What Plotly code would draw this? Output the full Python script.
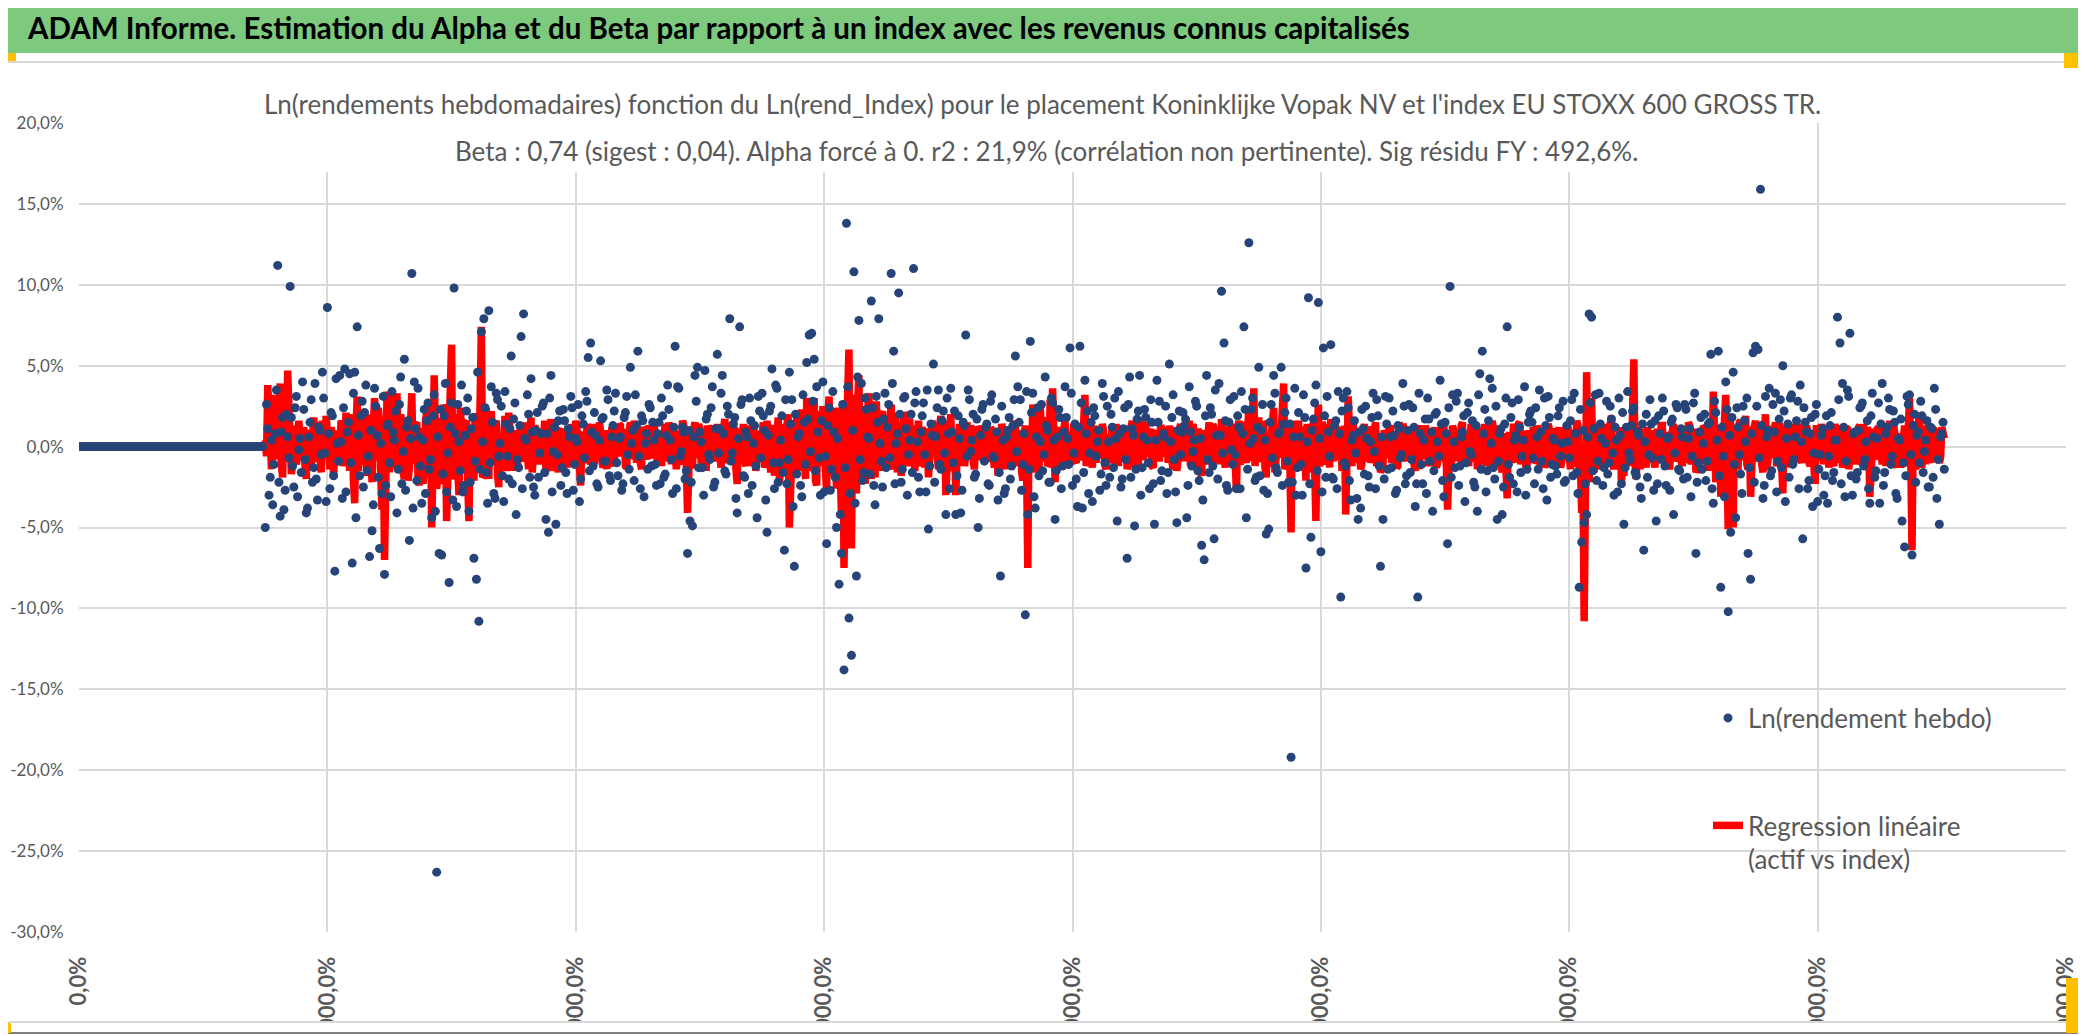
import plotly.graph_objects as go

# 1. Data (values in %)
# weeks before the first quote are plotted as zero returns
LEAD_ZEROS = [
    0.0, 0.0, 0.0, 0.0, 0.0, 0.0, 0.0, 0.0, 0.0, 0.0, 0.0, 0.0, 0.0, 0.0, 0.0,
    0.0, 0.0, 0.0, 0.0, 0.0, 0.0, 0.0, 0.0, 0.0, 0.0, 0.0, 0.0, 0.0, 0.0, 0.0,
    0.0, 0.0, 0.0, 0.0, 0.0, 0.0, 0.0, 0.0, 0.0, 0.0, 0.0, 0.0, 0.0, 0.0, 0.0,
    0.0, 0.0, 0.0, 0.0, 0.0, 0.0, 0.0, 0.0, 0.0, 0.0, 0.0, 0.0, 0.0, 0.0, 0.0,
    0.0, 0.0, 0.0, 0.0, 0.0, 0.0, 0.0, 0.0, 0.0, 0.0, 0.0, 0.0, 0.0, 0.0, 0.0,
]

# weekly log returns, one row per x unit (even weeks)
ln_weekly = [
    -5.0, 1.1, -1.9, -3.6, 0.8, 11.2, -4.3, 1.8, -2.7, 0.6,
    9.9, -1.2, 2.4, -3.1, 0.5, 4.0, -0.8, -3.8, 1.5, -2.2,
    3.9, -3.3, 1.0, 4.6, -0.4, 8.6, -2.6, 1.9, -7.7, 0.2,
    4.4, -3.2, 4.8, 0.9, 4.5, -7.2, 4.6, 7.4, -1.8, 2.8,
    2.1, -1.5, -6.8, -5.2, 3.6, 0.7, -6.3, -2.9, -7.9, 1.3,
    -1.0, 3.4, 0.4, -4.1, 2.6, -2.3, 5.4, 1.2, -5.8, 10.7,
    4.0, -2.1, 0.6, -3.5, 2.3, 1.6, -1.4, -4.4, 3.2, -26.3,
    -6.6, -6.7, 1.9, -2.8, -8.4, 2.7, 9.8, -3.7, 0.3, 3.8,
    -2.4, 2.2, -4.0, 1.1, -6.9, -8.2, -10.8, 7.1, 7.9, -1.6,
    8.4, 3.7, -2.9, 3.3, -0.6, 2.5, -3.4, 1.4, -2.0, 5.6,
    1.7, -4.2, -1.3, 6.8, 8.2, 0.4, 2.0, 4.2, -2.5, 1.0,
    -1.9, 0.8, 2.7, -4.5, -5.3, 4.4, -0.3, -4.8, 1.6, -2.4,
    2.3, -1.6, 1.1, 3.1, -2.7, 0.5, 2.6, -2.0, 1.4, 3.4,
    5.5, 6.4, -1.2, 0.7, -2.5, 5.3, 1.8, -0.9, 2.9, -2.1,
    1.3, 3.3, -1.8, 0.6, -2.3, 2.1, -0.5, 4.9, 1.0, 3.2,
    5.9, -2.6, 1.6, 0.2, -1.4, 2.4, 1.5, -1.1, 0.8, -2.3,
    1.9, -1.7, 3.8, 0.4, -2.9, 6.2, 3.7, -0.6, 1.2, -2.0,
    -6.6, -4.6, -4.9, 4.4, 4.9, 0.9, -1.3, 4.7, 2.0, -0.8,
    3.7, -2.2, 5.7, 1.1, 4.4, -1.5, 2.5, 7.9, -0.4, 1.8,
    -4.1, 7.4, 2.9, -1.9, 0.6, 3.0, -2.4, 1.3, -4.4, 2.2,
    3.3, 1.0, -5.3, 2.2, 4.8, -2.6, 3.6, -1.0, 1.9, -6.4,
    -2.3, 4.6, 2.9, -7.4, -1.7, 0.8, -3.1, 1.5, 5.2, 6.9,
    7.0, 5.4, 3.7, -0.7, 1.6, -2.8, -6.0, 2.4, -1.4, 0.9,
    -5.0, -8.5, -6.6, -13.8, 13.8, -10.6, -12.9, 10.8, -8.0, 7.8,
    3.9, -1.6, 2.3, 0.5, 9.0, -2.4, 3.1, 7.9, -0.9, 1.7,
    -1.3, 2.6, 10.7, 5.9, 0.2, 9.5, -2.2, 3.0, 1.1, -0.5,
    2.0, 11.0, 3.4, -1.9, 0.9, 2.7, -2.8, -5.1, 1.4, 5.1,
    0.6, 3.5, -1.4, 2.2, -4.2, 0.8, 3.6, -1.0, -4.2, 1.9,
    -4.1, 1.5, 6.9, 3.5, -0.3, 2.0, -1.7, -5.0, 0.7, 2.6,
    1.2, -2.3, 2.8, -0.6, 1.7, -3.3, -8.0, 0.4, -2.6, 1.0,
    -2.0, 1.3, 5.6, 3.7, 2.9, -1.1, -10.4, -4.2, 6.5, 3.3,
    -3.8, 2.4, 0.3, -1.5, 4.3, 1.0, -2.2, 2.7, -4.5, 0.6,
    1.8, -1.2, 3.7, 0.5, 6.1, -2.4, 1.4, -3.7, 6.2, -3.8,
    4.1, 2.2, -0.4, -3.4, 1.9, 0.3, -2.7, 3.9, -1.0, 2.5,
    -1.9, 1.2, 3.0, -4.6, 0.8, -2.0, 2.4, -6.9, 4.3, 1.1,
    -4.9, 1.7, 4.4, -1.3, 2.3, 0.4, -2.6, 1.5, -4.8, 4.1,
    2.8, -1.5, 0.6, -2.9, 5.1, 1.8, -0.8, -4.7, 2.2, 0.9,
    1.3, -4.4, 3.7, -1.2, 0.4, 2.5, -2.1, -6.1, -7.0, 4.4,
    -1.6, 2.0, -5.7, 0.7, 3.9, 9.6, 6.4, -2.4, 1.5, -0.2,
    3.1, -2.6, 1.2, 3.4, 7.4, -4.4, 12.6, 2.3, 0.5, -1.9,
    4.9, 1.0, -2.7, -5.4, -5.1, 2.6, 4.4, -1.3, 0.8, 4.9,
    1.4, 3.0, -2.2, -19.2, 0.6, -3.0, 2.1, -1.1, 3.2, -7.5,
    9.2, -5.6, 1.7, 3.8, 8.9, -6.5, 6.1, -1.9, 0.9, 6.3,
    -2.0, 1.6, 3.4, -9.3, 3.0, -1.2, 2.4, -3.3, 0.7, -0.4,
    -4.5, -3.8, 1.1, 2.5, -1.8, 0.3, 3.3, -2.6, 1.9, -7.4,
    -4.5, 3.1, -1.4, 0.6, 2.2, -2.9, 1.3, -0.7, 3.9, -2.3,
    1.0, -1.6, 2.4, -3.7, -9.3, 0.8, -2.3, 1.7, 3.0, -0.9,
    -4.0, 2.0, 0.3, 4.1, -2.1, 1.5, -6.0, 9.9, 3.2, -1.3,
    3.3, -1.2, 0.9, -3.4, 2.1, -0.3, 1.6, -2.5, -4.0, 4.5,
    5.9, 2.3, -1.5, 4.2, 3.6, -2.0, -4.5, 0.8, -4.2, 1.4,
    7.4, -1.9, 2.7, 0.4, -2.8, 1.2, -0.6, 3.7, -1.4, 2.0,
    1.5, -2.3, 0.6, 3.5, -0.9, 3.0, -3.3, 1.8, -1.1, 0.4,
    -1.7, 2.4, 0.2, -2.2, 1.3, -0.7, 2.9, 3.3, -1.6, -8.7,
    -5.9, -4.7, -4.2, 8.2, 8.0, 1.1, -2.1, 3.3, 0.5, -1.3,
    2.8, -1.0, 1.7, -3.0, 0.4, 3.0, -2.3, -4.8, 1.2, -0.4,
    1.3, 2.4, -1.8, 0.7, -3.2, -6.4, 2.0, -0.5, 1.4, -2.7,
    -4.6, 1.9, -0.8, 2.2, -2.4, 0.6, 1.5, -4.2, 2.6, -1.4,
    1.1, -2.0, 2.3, 0.5, -3.1, 2.7, -6.6, -1.0, 1.8, 0.2,
    -2.1, 1.4, 5.7, -3.5, 2.1, 5.9, -8.7, -0.6, 4.0, -10.2,
    -5.3, 4.6, -4.4, 1.2, -1.7, 2.5, 0.3, -6.6, -8.2, 5.8,
    6.2, 6.0, 15.9, -3.2, 3.1, 1.0, -1.8, 2.6, 3.3, -0.9,
    2.9, 5.0, -3.4, 1.4, 3.0, -1.1, 0.6, 2.8, 3.8, -5.7,
    1.5, -2.6, 0.8, -3.7, 2.0, -3.4, -0.5, 1.1, -1.8, -3.5,
    1.3, -2.1, 0.4, 8.0, 6.4, 3.9, -3.1, 3.5, 7.0, -3.0,
    0.9, -1.6, 2.4, 2.7, -0.8, 1.6, -3.5, 3.3, -1.9, 0.5,
    -3.5, 3.9, -1.6, 1.2, 2.3, -0.6, 1.5, -3.2, 0.4, -4.6,
    -6.2, 3.1, 3.2, -6.7, 2.0, 0.7, -1.0, 1.9, -0.3, 1.6,
    -2.5, 1.1, 3.6, -3.2, -4.8, 0.8, -1.4,
]

# odd weeks (between the values above)
ln_weekly_mid = [
    2.6, -3.0, 0.4, -1.1, 3.5, -2.2, 0.9, -3.9, 2.0, -0.7,
    1.8, -2.5, 3.1, -0.2, -1.6, 2.3, -4.1, 0.6, 2.9, -1.3,
    -2.0, 1.2, -0.5, 3.0, -3.4, 0.8, 2.1, -1.8, 4.2, -0.9,
    0.3, 2.4, -2.8, 1.5, -1.0, 3.3, -4.4, 0.7, 1.9, -2.5,
    3.8, -0.6, 1.0, -3.6, 2.5, -1.9, 0.2, 3.1, -2.4, 1.4,
    -3.1, 0.9, 2.2, -1.4, 4.3, -0.3, -2.7, 1.6, 0.5, -3.8,
    1.1, 3.6, -1.2, 0.4, -2.9, 2.7, -0.8, 1.9, -4.0, 0.6,
    2.3, -1.7, 3.9, -0.4, 1.2, -3.3, 0.8, 2.6, -1.5, -2.8,
    0.7, 3.0, -2.2, 1.8, -0.9, 4.6, -1.4, 0.3, 2.4, -3.5,
    -1.0, 1.5, -3.2, 2.9, 0.2, -1.8, 3.4, -0.6, 1.1, -2.3,
    2.7, -0.8, 1.3, -2.6, 0.5, 3.2, -1.9, 0.9, -3.0, 2.1,
    -0.4, 2.5, -1.6, 0.8, 3.0, -2.8, 1.2, -0.5, 2.2, -1.3,
    1.6, -2.9, 0.6, 2.4, -1.1, 0.3, -3.4, 1.9, -0.7, 2.8,
    -1.5, 0.9, 2.1, -2.3, 0.4, 1.7, -0.9, 3.5, -1.8, 0.6,
    2.2, -1.0, 0.5, -2.7, 1.8, 3.1, -1.4, 0.2, -2.1, 1.3,
    -0.6, 1.9, -3.1, 0.8, 2.6, -1.2, 0.4, -2.4, 1.5, 3.0,
    -1.9, 0.7, 2.3, -0.8, 1.2, -2.6, 3.6, -0.3, 0.9, -1.5,
    1.0, -2.2, 0.6, 2.8, -1.3, 0.3, -3.0, 1.7, -0.5, 2.4,
    -2.5, 1.1, -0.4, 3.3, 0.8, -1.7, 2.0, -0.9, 1.4, -3.2,
    0.5, 2.6, -1.8, 0.9, -2.9, 1.6, 0.2, -1.2, 3.1, -0.7,
    1.9, -3.3, 0.7, 2.5, -1.0, 3.8, -2.2, 0.4, -1.6, 2.9,
    -0.8, 1.4, -3.7, 2.0, 0.6, -2.4, 3.2, -1.1, 1.7, -0.3,
    2.8, -1.5, 0.9, -3.0, 4.0, -0.6, 1.3, -2.7, 3.4, -1.9,
    0.5, -4.2, 2.6, -1.3, 3.7, -2.9, 1.0, -3.5, 4.3, -0.8,
    -2.1, 3.0, 0.6, -1.7, 2.4, -3.6, 1.5, 0.2, -2.5, 3.3,
    1.2, -0.7, 3.9, -2.3, 0.8, 2.0, -1.4, 3.1, -3.0, 0.4,
    -1.6, 2.7, 0.3, -2.8, 1.9, -0.5, 3.5, -1.2, 0.7, -2.2,
    2.4, -1.1, 1.6, -0.4, 3.0, -2.6, 0.9, 2.2, -1.8, 0.5,
    -2.7, 1.3, -0.6, 2.9, 0.4, -1.9, 1.7, -3.2, 2.3, -0.9,
    1.4, -2.4, 3.2, -0.7, 0.9, -1.6, 2.5, -2.9, 0.6, 1.8,
    -1.2, 2.9, -0.3, 1.5, -2.7, 0.8, 3.4, -1.4, 2.1, -3.1,
    0.6, -1.8, 2.6, -0.5, 1.3, -2.2, 3.0, 0.4, -1.5, 2.3,
    -2.6, 0.9, 1.8, -1.1, 3.3, -0.4, -2.0, 1.2, 2.7, -1.6,
    0.8, -2.9, 1.5, 2.4, -0.6, 1.0, -1.7, 3.1, -2.4, 0.3,
    2.0, -1.3, 0.5, 3.4, -2.5, 1.1, -0.8, 2.6, -1.9, 0.7,
    -1.4, 2.2, -3.0, 0.6, 1.8, -1.0, 2.9, -2.3, 0.4, 1.5,
    -2.1, 0.8, 2.5, -1.6, 0.3, 3.2, -2.8, 1.0, -0.5, 2.1,
    1.7, -2.4, 0.9, -0.3, 2.8, -1.5, 0.5, -3.3, 1.9, -0.8,
    2.4, -1.2, 3.5, -2.0, 0.7, -0.4, 1.6, -2.7, 2.9, -1.1,
    -0.5, 1.9, -2.6, 0.8, 2.3, -1.4, 0.2, 3.0, -2.1, 1.2,
    -1.8, 2.6, 0.4, -2.9, 1.5, -0.7, 3.3, -1.6, 0.9, -2.4,
    2.1, -0.9, 1.4, -2.2, 3.6, -1.3, 0.6, -3.0, 1.8, 0.3,
    -2.3, 1.0, 2.7, -1.5, 0.5, -2.8, 1.9, 3.1, -0.6, -1.9,
    1.3, -2.6, 0.8, 2.2, -1.0, 3.4, -2.1, 0.4, 1.6, -3.2,
    0.9, 2.3, -1.7, 0.5, -2.5, 1.8, -0.3, 2.9, -1.2, 0.6,
    -2.0, 1.4, 3.0, -1.3, 0.7, -2.7, 1.1, -0.5, 2.5, -1.8,
    2.6, -0.8, 1.2, -2.3, 3.3, -1.1, 0.4, -2.9, 1.7, 0.9,
    -1.5, 2.1, -0.6, 1.4, -3.1, 0.8, 2.4, -1.9, 0.3, 2.8,
    -2.4, 0.6, 1.9, -1.0, 2.7, -0.5, -2.2, 1.3, 3.2, -1.4,
    0.8, -2.8, 1.6, 0.2, -1.3, 2.5, -0.9, 1.1, -2.5, 3.0,
    -1.1, 1.8, -2.3, 0.7, 2.9, -1.6, 0.4, -3.0, 1.5, 2.2,
    -0.7, 2.4, -1.4, 0.9, -2.6, 1.3, 3.1, -1.9, 0.5, -1.2,
    1.9, -0.6, 2.8, -2.1, 0.3, 1.6, -1.8, 0.8, -2.9, 2.3,
    1.0, -2.3, 0.6, 2.7, -1.5, 3.2, -0.9, 1.4, -2.4, 0.2,
    -1.7, 2.5, -0.4, 1.2, -2.8, 0.7, 2.1, -1.3, 3.4, -0.8,
    2.2, -1.6, 0.9, -2.5, 1.4, 0.3, -1.9, 2.9, -0.7, 1.6,
    -2.3, 0.8, 3.0, -1.2, 0.5, -2.7, 1.7, -0.4, 2.4, -1.5,
    0.6, 2.6, -1.9, 1.1, -0.6, 3.3, -2.2, 0.9, -1.4, 2.0,
    -0.9, 1.5, -2.6, 2.8, 0.4, -1.8, 1.2, -3.1, 2.3, 0.7,
    1.8, -1.1, 2.4, -0.5, -2.9, 1.6, 3.0, -1.3, 0.8, -2.2,
    2.5, -0.7, 1.3, -2.4, 0.6, 3.6, -1.5, 0.9, -2.8, 1.7,
    -1.3, 2.2, 0.5, -1.9, 3.2, -0.8, 1.6, -2.6, 0.3, 2.4,
    0.9, -2.1, 1.8, -0.4, 2.6, -1.4, 0.7, -3.0, 1.9, -0.6,
    2.1, -1.6, 0.4, 2.9, -2.3, 1.2, -0.9, 3.1, -1.8, 0.8,
    -2.0, 1.0, 2.5, -1.2, 0.3, -2.6, 1.9, 0.6, -1.5, 2.7,
    1.4, -2.4, 0.8, 3.0, -1.1, 2.2, -2.9, 0.5, 1.7, -1.0,
    -1.8, 2.6, -0.5, 1.3, -2.2, 0.9, 2.8, -1.6, 0.4, -2.5,
    1.2, -1.9, 2.3, -0.8, 0.6, 1.5,
]

# fitted values beta x index return (even weeks)
regression = [
    0.4, 3.8, -0.5, 1.2, 3.2, 0.3, 3.9, -1.9, 1.1, 4.7,
    -0.4, -1.0, 1.3, -0.6, 0.8, 0.2, -1.2, 1.0, -0.3, 0.6,
    0.9, -0.8, 0.4, 1.6, -0.2, 1.1, -1.4, 0.5, -0.9, 0.3,
    -0.7, 1.4, -0.5, 0.8, -1.5, 2.0, -3.5, 3.1, 0.6, -1.1,
    1.2, -1.8, 0.7, -2.2, 3.0, -0.6, 1.5, -3.9, -7.0, 3.4,
    -1.6, 3.2, -0.9, 3.3, -1.1, 1.4, -2.0, 0.8, -1.3, 3.3,
    -0.8, 1.5, -2.4, 0.9, -1.2, 2.1, -1.9, -5.0, 4.4, -2.6,
    1.8, -2.3, 2.6, -4.6, 0.9, 6.3, -1.7, 2.0, -3.0, 1.1,
    -1.4, 1.6, -4.6, 0.8, -2.1, 1.9, -0.7, 7.4, -1.8, 2.4,
    -2.0, 2.2, -1.0, 1.6, -2.5, 0.6, 1.3, -1.5, 2.1, -0.8,
    1.0, -1.2, 0.4, 1.5, -0.9, 0.7, -1.4, 1.8, -0.5, 0.9,
    -1.1, 0.6, 1.2, -1.5, 0.3, 1.7, -0.8, 0.5, -1.6, 1.1,
    0.7, -0.6, 1.3, -1.0, 0.4, 1.6, -0.3, -2.4, 0.9, -0.7,
    1.2, -1.1, 0.5, 1.4, -0.8, 0.9, -1.3, 0.6, 1.0, -0.4,
    -0.9, 1.0, -0.5, 1.3, 0.2, -1.2, 0.8, 1.5, -0.6, 0.9,
    0.5, -1.0, 1.2, -0.4, 0.8, 1.1, -0.7, 0.6, -1.2, 0.9,
    -0.5, 1.4, -0.9, 0.7, 1.2, -0.3, 0.8, -1.1, 1.6, -0.6,
    -4.1, 0.8, -1.3, 1.5, -0.4, 1.0, -0.9, 0.6, 1.3, -0.5,
    1.0, -0.6, 1.4, -0.8, 0.5, 1.7, -1.0, 0.9, -0.3, 1.2,
    -2.3, 0.7, 1.1, -0.9, 0.4, 1.3, -1.2, 0.8, -0.6, 1.0,
    0.9, -1.3, 1.6, -0.7, 1.1, -1.8, 0.5, -2.2, 1.4, -1.0,
    1.2, -5.0, 0.6, -1.7, 1.9, -0.8, 2.3, -1.2, 3.0, -0.4,
    -1.5, 3.0, -2.4, 2.2, -1.1, 1.7, -2.8, 3.1, -0.9, 2.4,
    -2.6, 2.1, -4.3, -7.5, 1.8, 6.0, -6.3, 3.2, -2.9, 4.4,
    -1.7, 2.5, -1.2, 3.3, -2.0, 1.4, 2.8, -0.6, 1.9, -1.3,
    1.8, -0.9, 2.6, -1.4, 1.2, 0.6, -1.8, 2.1, -0.7, 1.5,
    -1.0, 1.3, -0.5, 1.6, -1.2, 0.8, 1.1, -1.9, 0.5, 1.0,
    0.7, -1.4, 1.9, -0.8, -3.0, 1.2, 2.0, -1.1, -3.0, 0.9,
    -1.2, 1.5, -0.6, 0.9, 1.3, -0.8, 0.4, 1.1, -0.5, 0.8,
    0.5, -0.9, 1.2, -0.4, 0.7, -1.8, -0.3, 1.0, -1.4, 0.6,
    0.9, -1.1, 1.4, -0.7, 0.6, -2.1, 1.3, -7.5, 0.8, 2.6,
    -1.6, 1.3, 2.4, -0.9, 1.8, -1.2, 2.9, 3.6, -2.2, 1.0,
    0.8, -0.5, 1.6, -1.1, 0.6, 1.3, -0.9, 0.4, 1.2, -0.7,
    3.2, -0.8, 1.5, -1.3, 0.6, 1.0, -0.5, 1.4, -1.1, 0.7,
    -0.6, 1.2, -1.0, 0.5, 1.3, -0.9, 0.7, -1.4, 0.9, 1.6,
    -1.3, 0.9, 1.8, -0.6, 1.1, -0.4, 0.8, -1.2, 0.5, 1.0,
    -0.7, 1.1, -0.4, 0.8, 1.3, -0.9, 0.6, -1.5, 1.0, -0.3,
    1.2, -0.8, 1.6, -0.5, 0.9, -1.3, 0.7, -1.8, 1.0, 0.4,
    1.5, -0.6, 1.1, -1.0, 0.8, 1.7, -0.4, 1.2, -0.9, 1.3,
    0.9, -2.8, 1.6, -0.7, 1.2, -1.0, 2.2, 0.8, 3.6, 1.5,
    1.8, -0.8, 1.4, -1.9, -1.2, 0.6, 2.4, -0.5, 1.1, 0.7,
    3.9, -1.1, 1.2, -5.3, 0.8, -1.5, 1.6, -0.4, 1.0, -2.1,
    0.9, -1.6, 1.4, -4.6, 2.6, -0.8, 1.3, -1.1, 0.5, 1.7,
    -0.9, 1.3, -0.6, 1.0, -1.2, -4.2, 3.1, -0.7, 1.4, -0.5,
    1.0, -1.4, 0.7, -0.5, 1.2, -1.0, 0.6, 1.5, -0.8, -1.6,
    -1.1, 0.8, -0.4, 1.3, -0.7, 0.5, -1.2, 0.9, 1.4, -0.6,
    0.7, -0.9, 1.1, -1.5, -0.3, 1.0, -0.7, 1.3, -0.5, 0.8,
    -0.6, 1.2, -1.0, 0.6, 1.4, -0.8, -3.9, 0.9, 1.3, -0.4,
    1.0, -0.7, 1.5, -1.2, 0.4, 1.1, -0.9, 0.6, -1.4, 0.8,
    -0.8, 1.4, -0.5, 1.0, 1.6, -1.2, 0.7, -0.9, -1.6, 0.5,
    -3.2, 0.8, -0.4, 1.2, -0.9, 1.5, -0.6, 1.0, -1.1, 0.7,
    0.6, -1.0, 1.3, -0.5, 0.9, -1.3, 0.4, 1.1, -0.8, 0.9,
    -0.5, 1.2, -0.9, 0.7, 1.4, -0.6, 1.0, -1.2, 1.6, -1.4,
    -4.1, -10.8, 4.6, -2.2, 3.0, -1.6, 1.2, -0.9, 0.6, 1.3,
    0.8, -0.6, 1.9, -1.4, 0.5, 1.1, -2.3, -1.8, 1.3, 0.9,
    -1.1, 5.4, -2.0, 1.2, -0.6, 0.9, -1.3, 0.5, 1.0, -0.7,
    0.6, -0.9, 1.3, -0.4, 0.8, -1.2, 0.5, 1.4, -0.7, 1.0,
    -0.8, 1.2, -0.5, 1.5, -1.1, 0.7, -1.6, 1.0, -0.3, 1.3,
    0.9, -1.5, 1.2, 3.4, -2.2, 1.0, -3.1, 0.7, 3.2, -5.1,
    1.4, -5.0, 0.8, -1.2, 1.6, -0.6, 1.9, -1.4, -3.1, 1.1,
    1.6, -0.7, 1.3, -1.6, 2.0, -0.9, 1.1, -0.4, 1.5, -1.0,
    1.2, -2.9, 0.7, 1.4, -0.9, 1.0, -0.5, 1.3, -0.8, 0.6,
    -0.6, 0.9, -1.2, 0.5, -2.3, 1.1, -0.7, 0.8, -0.4, 1.2,
    0.7, -1.0, 1.4, -0.5, 0.9, -1.3, 0.6, 1.1, -0.8, 0.5,
    1.0, -0.6, 1.3, -0.9, 0.7, 1.2, -3.1, 0.8, -0.5, 1.1,
    0.6, -1.1, 1.2, -0.4, 1.6, -0.8, 0.9, -1.3, 0.5, -0.6,
    1.3, -0.7, 3.0, -6.4, 1.5, -0.9, 2.1, -1.3, 0.8, 1.0,
    -0.7, 1.1, -0.4, 0.9, -1.0, 1.2, 0.5,
]

# fitted values (odd weeks)
regression_mid = [
    -0.6, 1.9, -1.4, 2.3, -0.8, 2.0, -1.2, 2.6, -0.5, 1.5,
    -1.7, 0.9, -1.1, 1.6, -0.4, 1.2, -2.0, 0.7, -1.3, 1.8,
    -0.9, 1.5, -1.6, 0.6, 1.9, -0.7, 1.2, -1.8, 1.0, -0.5,
    1.6, -1.2, 2.1, -0.9, 1.4, -2.2, 1.0, -1.5, 2.3, -0.6,
    -1.0, 2.0, -1.7, 1.3, -0.8, 2.4, -1.9, 0.9, -2.6, 1.1,
    2.2, -1.3, 1.8, -0.7, 2.0, -1.6, 0.8, -2.1, 1.5, -1.0,
    1.4, -1.9, 1.1, -2.3, 1.6, -0.9, 2.5, -1.4, 1.2, -1.7,
    0.9, -1.6, 2.2, -1.1, 1.7, -2.0, 1.3, -1.5, 2.4, -0.8,
    1.5, -2.2, 0.8, -1.4, 2.0, -1.1, 2.8, -1.9, 1.0, -1.3,
    1.8, -0.9, 1.4, -1.7, 0.7, -1.2, 1.9, -0.6, 1.1, -1.5,
    0.6, -1.3, 1.2, -0.7, 1.5, -1.0, 0.9, -1.6, 1.3, -0.4,
    1.1, -0.8, 1.6, -1.2, 0.5, -1.5, 1.3, -0.6, 1.0, -1.4,
    0.8, -1.3, 0.6, 1.4, -0.9, 1.1, -1.6, 0.7, -1.0, 1.2,
    -0.7, 1.3, -1.1, 0.6, 1.5, -0.8, 1.0, -1.4, 0.5, 1.2,
    -1.2, 0.7, 1.4, -0.6, 1.1, -1.3, 0.9, -0.7, 1.6, -1.0,
    0.6, -1.4, 1.0, -0.8, 1.3, -0.5, 1.5, -1.1, 0.8, -1.2,
    1.2, -0.6, 1.5, -1.1, 0.7, -1.4, 1.0, -0.5, 1.3, -0.9,
    0.5, -1.2, 1.1, -0.7, 1.4, -1.0, 0.6, -1.5, 0.9, -0.8,
    1.3, -0.9, 0.6, -1.3, 1.0, -0.6, 1.5, -1.1, 0.8, -1.4,
    1.1, -0.7, 1.4, -1.2, 0.5, -0.9, 1.2, -1.5, 1.0, -0.6,
    1.5, -1.0, 0.8, -1.6, 1.3, -0.7, 1.8, -1.2, 0.9, -1.7,
    2.0, -1.1, 1.6, -0.8, 2.2, -1.5, 1.0, -2.0, 1.7, -1.3,
    1.2, -2.1, 1.8, -1.0, 2.5, -1.4, 2.0, -1.8, 1.3, -2.2,
    2.4, -1.6, 2.8, -2.0, 1.5, -2.6, 1.9, -1.4, 2.7, -1.8,
    1.6, -2.3, 2.0, -1.2, 1.8, -1.9, 1.1, -1.5, 2.2, -0.9,
    -1.4, 1.7, -1.0, 2.1, -1.6, 1.3, -0.8, 1.9, -1.2, 1.5,
    1.0, -1.5, 1.4, -0.7, 1.2, -1.3, 0.8, -1.1, 1.6, -0.6,
    -1.1, 1.3, -0.8, 1.6, -1.2, 0.7, -1.5, 1.0, -0.6, 1.4,
    0.9, -1.2, 1.5, -0.6, 1.0, -1.4, 1.2, -0.8, 1.3, -1.0,
    1.2, -0.7, 1.0, -1.3, 0.6, -1.1, 1.4, -0.9, 1.1, -1.2,
    -0.8, 1.4, -1.2, 1.0, -1.5, 0.7, -1.0, 1.3, -1.6, 1.1,
    0.8, -1.5, 1.2, -0.6, 1.6, -1.1, 1.3, -0.9, 1.0, -1.3,
    -0.6, 1.1, -1.3, 0.9, -0.7, 1.4, -1.0, 1.2, -0.8, 1.5,
    -1.2, 0.8, -0.6, 1.3, -1.0, 1.2, -0.7, 1.0, -1.4, 0.6,
    1.1, -0.9, 1.4, -1.2, 0.7, -0.5, 1.3, -1.0, 0.8, -1.1,
    0.7, -1.2, 1.0, -0.8, 1.5, -0.6, 1.1, -1.3, 0.9, -0.7,
    1.3, -0.6, 1.1, -1.0, 0.5, -1.4, 1.2, -0.8, 1.4, -0.9,
    -0.7, 1.0, -1.2, 1.4, -0.8, 1.1, -1.5, 0.7, -1.1, 1.3,
    -1.0, 1.4, -0.6, 1.2, -1.1, 0.8, -1.3, 1.0, -0.5, 1.2,
    -1.3, 0.9, -1.1, 1.5, -0.7, 1.2, -0.9, 1.6, -1.2, 1.0,
    -0.9, 1.5, -1.3, 0.8, -1.0, 1.4, -1.6, 1.1, -0.7, 1.3,
    -1.4, 1.0, -0.8, 1.6, -1.2, 0.9, -1.5, 1.2, -0.6, 1.4,
    -1.1, 1.3, -1.4, 0.7, -1.2, 1.5, -0.8, 1.0, -1.3, 0.9,
    1.2, -0.8, 1.0, -1.5, 1.3, -0.7, 1.1, -1.2, 0.8, -1.0,
    0.6, -1.1, 1.4, -0.9, 1.0, -0.6, 1.3, -1.2, 0.7, -1.4,
    1.0, -0.7, 1.2, -1.0, 0.6, -1.3, 1.5, -0.8, 1.1, -0.9,
    -0.8, 1.2, -1.1, 0.7, -1.4, 1.3, -0.6, 1.0, -1.2, 0.9,
    1.1, -1.3, 0.8, -0.6, 1.2, -1.0, 0.7, -1.4, 1.0, -0.8,
    -0.9, 1.3, -1.0, 0.8, -1.2, 1.4, -0.7, 1.1, -0.9, 1.2,
    1.0, -1.2, 0.9, -1.4, 1.1, -0.6, 1.3, -1.0, 0.8, -1.3,
    0.7, -1.0, 1.2, -0.8, 1.4, -1.1, 0.6, -1.3, 1.0, -0.7,
    1.2, -0.9, 1.0, -1.3, 0.7, -1.0, 1.4, -0.8, 1.1, -1.2,
    0.9, -1.3, 1.1, -0.7, 1.2, -1.4, 0.8, -1.0, 1.3, -1.1,
    -1.6, 2.0, -1.2, 1.5, -1.0, 1.3, -1.4, 0.9, -1.1, 1.2,
    -0.8, 1.4, -1.0, 0.7, -1.3, 1.2, -0.9, 1.1, -1.2, 0.8,
    1.3, -1.1, 0.9, -1.4, 1.0, -0.7, 1.2, -1.0, 0.6, -1.3,
    1.1, -0.8, 1.3, -1.0, 0.7, -1.2, 1.4, -0.9, 1.0, -0.6,
    -1.2, 0.9, -1.0, 1.3, -0.8, 1.1, -1.4, 0.7, -1.1, 1.2,
    -1.0, 1.4, -1.3, 0.8, -1.5, 1.1, -0.9, 1.3, -1.2, 1.6,
    -1.4, 1.0, -1.2, 1.5, -0.8, 1.3, -1.1, 0.9, -1.3, 1.2,
    -0.9, 1.3, -1.1, 0.8, -1.4, 1.2, -0.7, 1.0, -1.2, 1.4,
    -1.0, 1.1, -1.3, 0.7, -1.1, 1.4, -0.9, 1.2, -1.0, 0.8,
    1.3, -1.0, 0.9, -1.2, 1.1, -0.8, 1.4, -1.1, 0.7, -1.3,
    1.0, -1.2, 0.8, -1.0, 1.3, -0.9, 1.2, -1.4, 1.1, -0.7,
    -1.1, 1.2, -0.9, 1.4, -1.0, 0.8, -1.3, 1.1, -0.8, 1.2,
    -0.9, 1.3, -1.2, 0.7, -1.1, 1.4, -1.0, 0.8, -1.3, 1.0,
    -1.2, 1.1, -0.8, 1.0, -1.4, 1.2, -0.9, 1.3, -1.1, 0.8,
    -1.0, 1.2, -0.8, 1.1, -0.7, 1.0,
]

# x axis: week index, plotted in Excel units (1 = 100%)
X_STEP = 0.1
X_FIRST = 7.5

X_TICKS = [0, 10, 20, 30, 40, 50, 60, 70, 80]
Y_TICKS = [20, 15, 10, 5, 0, -5, -10, -15, -20, -25, -30]

MAIN_TITLE = "ADAM Informe. Estimation du Alpha et du Beta par rapport à un index avec les revenus connus capitalisés"
SUB_TITLE_1 = "Ln(rendements hebdomadaires) fonction du Ln(rend_Index) pour le placement Koninklijke Vopak NV et l'index EU STOXX 600 GROSS TR."
SUB_TITLE_2 = "Beta : 0,74 (sigest : 0,04). Alpha forcé à 0. r2 : 21,9% (corrélation non pertinente). Sig résidu FY : 492,6%."


# 2. Interleave even and odd weeks
def interleave(main, mid):
    xs, ys = [], []
    for i, v in enumerate(main):
        xs.append(round(X_FIRST + X_STEP * i, 3))
        ys.append(v / 100)
        if i < len(mid):
            xs.append(round(X_FIRST + X_STEP * (i + 0.5), 3))
            ys.append(mid[i] / 100)
    return xs, ys


x_zero = [round(X_STEP * i, 3) for i in range(len(LEAD_ZEROS))]
x_ret, y_ret = interleave(ln_weekly, ln_weekly_mid)
x_reg, y_reg = interleave(regression, regression_mid)

x_points = x_zero + x_ret
y_points = [v / 100 for v in LEAD_ZEROS] + y_ret

# page geometry (the html body adds an 8px margin)
OFF = 8
W, H = 2086 - OFF, 1035 - OFF
L, R, T, B = 79 - OFF, 20, 123 - OFF, 103
FONT = "Lato, 'Open Sans', sans-serif"
GREY = "#595959"


def px_x(px):
    return (px - OFF - L) / (W - L - R)


def px_y(py):
    return (H - B - (py - OFF)) / (H - T - B)


def pct(v):
    return f"{v:.1f}%".replace(".", ",")


def rect(x0, y0, x1, y1, fill, line=None):
    return dict(type="rect", xref="paper", yref="paper",
                x0=px_x(x0), x1=px_x(x1), y0=px_y(y1), y1=px_y(y0),
                fillcolor=fill, line=line or dict(width=0), layer="above")


def hline(x0, x1, y, color, width=2):
    return dict(type="line", xref="paper", yref="paper", x0=px_x(x0), x1=px_x(x1),
                y0=px_y(y), y1=px_y(y), line=dict(color=color, width=width), layer="above")


fig = go.Figure()

fig.add_trace(go.Scatter(
    x=x_reg, y=y_reg, mode="lines",
    name="Regression linéaire<br>(actif vs index)",
    line=dict(color="#FF0000", width=7.5),
    legend="legend2", showlegend=True,
))

fig.add_trace(go.Scatter(
    x=x_points, y=y_points, mode="markers",
    name="Ln(rendement hebdo)",
    marker=dict(color="#264478", size=9),
    legend="legend", showlegend=True,
))

# 3. Layout
shapes = [
    rect(0, 0, 2086, 53, "#7DC97E"),                      # green header band
    rect(270, 66, 1815, 172, "white"),                     # box behind the chart title
    hline(0, 2086, 62, "#D9D9D9"),
    rect(0, 1021, 2086, 1035, "white"),
    hline(0, 2086, 1022, "#D9D9D9"),
    hline(0, 2086, 1033, "#7F7F7F"),
    dict(type="line", xref="paper", yref="paper", x0=px_x(2081), x1=px_x(2081),
         y0=px_y(62), y1=px_y(1033), line=dict(color="#D9D9D9", width=2), layer="above"),
    # selection handles
    rect(0, 53, 16, 61, "#FFC000"),
    rect(2064, 53, 2083, 68, "#FFC000"),
    rect(0, 1023, 11, 1033, "#FFC000"),
    rect(2066, 978, 2083, 1033, "#FFC000"),
]

annotations = [
    dict(text=MAIN_TITLE, xref="paper", yref="paper", x=px_x(25), y=px_y(27), xanchor="left",
         yanchor="middle", showarrow=False, font=dict(family=FONT, size=29.5, color="black", weight="bold")),
    dict(text=SUB_TITLE_1, xref="paper", yref="paper", x=px_x(1042), y=px_y(104), xanchor="center",
         yanchor="middle", showarrow=False, font=dict(family=FONT, size=26, color=GREY)),
    dict(text=SUB_TITLE_2, xref="paper", yref="paper", x=px_x(1046), y=px_y(151), xanchor="center",
         yanchor="middle", showarrow=False, font=dict(family=FONT, size=26, color=GREY)),
]

fig.update_layout(
    width=W, height=H,
    margin=dict(l=L, r=R, t=T, b=B),
    paper_bgcolor="white", plot_bgcolor="white",
    font=dict(family=FONT, color=GREY),
    showlegend=True,
    shapes=shapes,
    annotations=annotations,
    legend=dict(x=px_x(1708), y=px_y(718), xanchor="left", yanchor="middle",
                bgcolor="rgba(0,0,0,0)", font=dict(size=26, color=GREY)),
    legend2=dict(x=px_x(1708), y=px_y(802), xanchor="left", yanchor="top", valign="top",
                 bgcolor="rgba(0,0,0,0)", font=dict(size=26, color=GREY)),
    xaxis=dict(
        range=[0, 80], tickvals=X_TICKS, ticktext=[pct(v * 100) for v in X_TICKS],
        tickangle=-90, ticks="outside", ticklen=15, tickcolor="rgba(0,0,0,0)",
        tickfont=dict(size=22, color=GREY, weight="bold"),
        showgrid=True, gridcolor="#D9D9D9", gridwidth=2,
        zeroline=False, showline=False, automargin=False,
    ),
    yaxis=dict(
        range=[-0.30, 0.20], tickvals=[v / 100 for v in Y_TICKS], ticktext=[pct(v) for v in Y_TICKS],
        ticks="outside", ticklen=11, tickcolor="rgba(0,0,0,0)",
        tickfont=dict(size=17, color=GREY),
        showgrid=True, gridcolor="#D9D9D9", gridwidth=2,
        zeroline=False, showline=False, automargin=False,
    ),
)

fig.write_html("out.html")
